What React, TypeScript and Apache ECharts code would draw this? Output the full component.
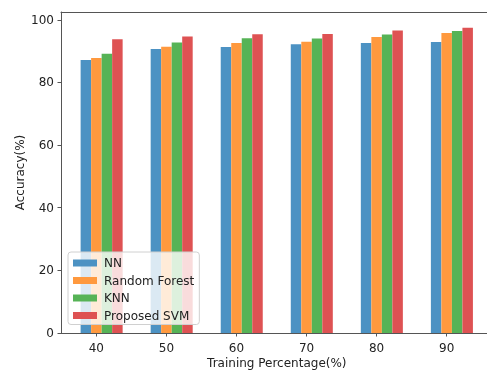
import React, { useEffect, useRef } from "react";
import * as echarts from "echarts";

const categories = [40, 50, 60, 70, 80, 90];
const seriesNames = ["NN", "Random Forest", "KNN", "Proposed SVM"];
const nnValues = [87.2, 90.7, 91.3, 92.2, 92.6, 92.9];
const rfValues = [87.8, 91.4, 92.6, 93.0, 94.5, 95.8];
const knnValues = [89.2, 92.8, 94.1, 94.0, 95.3, 96.4];
const svmValues = [93.8, 94.7, 95.4, 95.5, 96.6, 97.5];
const yTicks = [0, 20, 40, 60, 80, 100];

const colors = ["#4c92c3", "#ff993e", "#56b356", "#de5253"];
const FONT = "DejaVu Sans";
const SPINE = "#555";

export default function App() {
  const ref = useRef<HTMLDivElement>(null);
  useEffect(() => {
    document.body.style.margin = "0";
    const chart = echarts.init(ref.current!, null, { renderer: "svg" });
    const all = [nnValues, rfValues, knnValues, svmValues];
    const step = 1.5; // bar width in axis units
    const series = all.map((vals, si) => ({
      name: seriesNames[si],
      type: "bar" as const,
      barWidth: 10.5,
      barGap: "-100%",
      xAxisIndex: 0,
      itemStyle: { color: colors[si] },
      data: vals.map((v, i) => [categories[i] + (si - 1) * step, v]),
    }));
    const xMin = 34.95;
    const xMax = 95.76;
    chart.setOption({
      animation: false,
      textStyle: { fontFamily: FONT },
      grid: {
        left: 61,
        top: 12,
        bottom: 38,
        right: 0,
        show: false,
        containLabel: false,
        outerBoundsMode: "none",
      },
      legend: {
        orient: "vertical",
        left: 68,
        top: 252,
        itemWidth: 24,
        itemHeight: 7,
        itemGap: 3.5,
        icon: "rect",
        padding: [4, 5, 2, 5],
        borderColor: "#d0d0d0",
        borderWidth: 1,
        borderRadius: 3,
        backgroundColor: "rgba(255,255,255,0.8)",
        textStyle: { fontFamily: FONT, fontSize: 12, color: "#222", lineHeight: 14, padding: [0, 0, 0, 2] },
        data: seriesNames,
      },
      xAxis: [
        {
          type: "value",
          min: xMin,
          max: xMax,
          name: "Training Percentage(%)",
          nameLocation: "middle",
          nameGap: 24,
          nameMoveOverlap: false,
          nameTextStyle: { fontFamily: FONT, fontSize: 12, color: "#222", padding: [0, 0, 0, 5.6] },
          splitLine: { show: false },
          axisLine: { show: true, lineStyle: { color: SPINE, width: 1 } },
          axisTick: { show: true, length: 3.5, customValues: categories, lineStyle: { color: SPINE } },
          axisLabel: { customValues: categories, margin: 9, fontFamily: FONT, fontSize: 12, color: "#222" },
        },
        {
          type: "value",
          position: "top",
          min: xMin,
          max: xMax,
          splitLine: { show: false },
          axisLine: { show: true, onZero: false, lineStyle: { color: SPINE, width: 1 } },
          axisTick: { show: false },
          axisLabel: { show: false },
        },
      ],
      yAxis: {
        type: "value",
        min: 0,
        max: 102.5,
        name: "Accuracy(%)",
        nameLocation: "middle",
        nameGap: 35,
        nameMoveOverlap: false,
        nameTextStyle: { fontFamily: FONT, fontSize: 12, color: "#222" },
        splitLine: { show: false },
        axisLine: { show: true, lineStyle: { color: SPINE, width: 1 } },
        axisTick: { show: true, length: 3.5, customValues: yTicks, lineStyle: { color: SPINE } },
        axisLabel: { customValues: yTicks, margin: 7, fontFamily: FONT, fontSize: 12, color: "#222" },
      },
      series,
    });
    return () => chart.dispose();
  }, []);
  return <div ref={ref} style={{ position: "fixed", left: 0, top: 0, width: 487, height: 371 }} />;
}
